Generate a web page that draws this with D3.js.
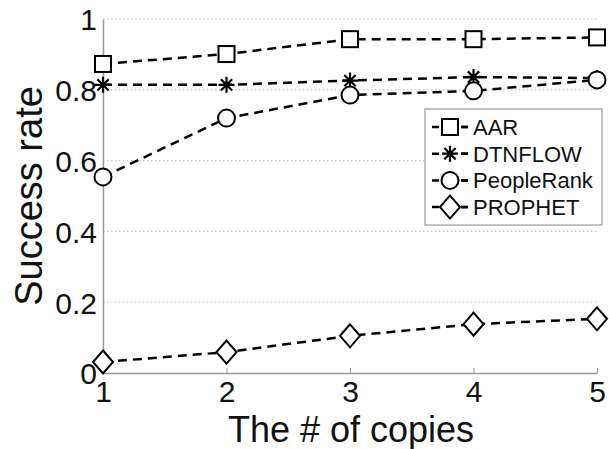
<!DOCTYPE html>
<html>
<head>
<meta charset="utf-8">
<script src="https://cdn.jsdelivr.net/npm/d3@7"></script>
<style>
  body { margin: 0; background: #fff; }
  svg { font-family: "Liberation Sans", Arial, sans-serif; }
</style>
</head>
<body>
<div id="chart"></div>
<script>
const WIDTH = 609;
const HEIGHT = 449;

// data
const copies = [1, 2, 3, 4, 5];
const aar = [0.873, 0.901, 0.943, 0.943, 0.948];
const dtnflow = [0.814, 0.814, 0.826, 0.836, 0.833];
const peopleRank = [0.554, 0.72, 0.785, 0.797, 0.828];
const prophet = [0.031, 0.059, 0.105, 0.138, 0.153];
const seriesNames = ['AAR', 'DTNFLOW', 'PeopleRank', 'PROPHET'];
const markers = ['square', 'star', 'circle', 'diamond'];
const yTicks = [0, 0.2, 0.4, 0.6, 0.8, 1];

const series = [aar, dtnflow, peopleRank, prophet].map((values, i) => ({
  name: seriesNames[i],
  marker: markers[i],
  points: values.map((v, j) => ({ x: copies[j], y: v })),
}));

const plot = { left: 103, right: 597, top: 19, bottom: 373 };

const svg = d3
  .select('#chart')
  .append('svg')
  .attr('width', WIDTH)
  .attr('height', HEIGHT);

const x = d3.scaleLinear().domain([1, 5]).range([plot.left, plot.right]);
const y = d3.scaleLinear().domain([0, 1]).range([plot.bottom, plot.top]);

// dotted horizontal grid
svg
  .append('g')
  .selectAll('line')
  .data(yTicks.filter((d) => d > 0))
  .join('line')
  .attr('x1', plot.left)
  .attr('x2', plot.right)
  .attr('y1', (d) => y(d))
  .attr('y2', (d) => y(d))
  .attr('stroke', '#bbb')
  .attr('stroke-width', 1)
  .attr('stroke-dasharray', '1.5,2.5');

// axes
const yAxis = svg
  .append('g')
  .attr('transform', `translate(${plot.left},0)`)
  .call(d3.axisLeft(y).tickValues(yTicks).tickFormat(d3.format('')).tickSize(0).tickPadding(6));
yAxis.select('.domain').attr('stroke', '#999').attr('stroke-width', 1.5);
yAxis.selectAll('text').attr('font-size', 30).attr('fill', '#111').attr('dy', '0.36em');

const xAxis = svg
  .append('g')
  .attr('transform', `translate(0,${plot.bottom})`)
  .call(d3.axisBottom(x).tickValues(copies).tickFormat(d3.format('d')).tickSizeInner(-5).tickSizeOuter(0).tickPadding(8));
xAxis.select('.domain').attr('stroke', '#999').attr('stroke-width', 1.5);
xAxis.selectAll('.tick line').attr('stroke', '#999');
xAxis.selectAll('text').attr('font-size', 30).attr('fill', '#111');

// axis titles
svg
  .append('text')
  .attr('x', 351)
  .attr('y', 442)
  .attr('text-anchor', 'middle')
  .attr('font-size', 36)
  .attr('fill', '#111')
  .text('The # of copies');

svg
  .append('text')
  .attr('transform', `translate(42,${(plot.top + plot.bottom) / 2}) rotate(-90)`)
  .attr('text-anchor', 'middle')
  .attr('font-size', 38)
  .attr('fill', '#111')
  .text('Success rate');

function drawMarker(g, type) {
  if (type === 'square') {
    g.append('rect').attr('x', -8).attr('y', -8).attr('width', 16).attr('height', 16)
      .attr('fill', '#fff').attr('stroke', '#000').attr('stroke-width', 2);
  } else if (type === 'circle') {
    g.append('circle').attr('r', 8.5)
      .attr('fill', '#fff').attr('stroke', '#000').attr('stroke-width', 2);
  } else if (type === 'diamond') {
    g.append('path').attr('d', 'M0,-11.5L10,0L0,11.5L-10,0Z')
      .attr('fill', '#fff').attr('stroke', '#000').attr('stroke-width', 2);
  } else {
    const r = 8;
    const d = r * Math.SQRT1_2;
    g.append('path')
      .attr('d', `M0,${-r}V${r}M${-r},0H${r}M${-d},${-d}L${d},${d}M${-d},${d}L${d},${-d}`)
      .attr('stroke', '#000').attr('stroke-width', 2.2).attr('fill', 'none');
  }
}

const line = d3.line().x((d) => x(d.x)).y((d) => y(d.y));

series.forEach((s) => {
  const g = svg.append('g');
  g.append('path')
    .datum(s.points)
    .attr('d', line)
    .attr('fill', 'none')
    .attr('stroke', '#000')
    .attr('stroke-width', 2.5)
    .attr('stroke-dasharray', '9,6');
  g.selectAll('.marker')
    .data(s.points)
    .join('g')
    .attr('class', 'marker')
    .attr('transform', (d) => `translate(${x(d.x)},${y(d.y)})`)
    .each(function () {
      drawMarker(d3.select(this), s.marker);
    });
});

// legend
const legend = svg.append('g').attr('transform', 'translate(425,109)');
legend.append('rect')
  .attr('width', 177).attr('height', 116)
  .attr('fill', '#fff').attr('stroke', '#999').attr('stroke-width', 1.2);

const rows = legend.selectAll('.row')
  .data(series)
  .join('g')
  .attr('class', 'row')
  .attr('transform', (d, i) => `translate(0,${18 + i * 26.7})`);
rows.append('line')
  .attr('x1', 7).attr('x2', 43)
  .attr('stroke', '#000').attr('stroke-width', 2.5)
  .attr('stroke-dasharray', '7,22');
rows.append('line')
  .attr('x1', 36).attr('x2', 43)
  .attr('stroke', '#000').attr('stroke-width', 2.5);
rows.append('g')
  .attr('transform', 'translate(25,0)')
  .each(function (d) {
    drawMarker(d3.select(this), d.marker);
  });
rows.append('text')
  .attr('x', 48)
  .attr('dy', '0.36em')
  .attr('font-size', 22)
  .attr('fill', '#111')
  .text((d) => d.name);
</script>
</body>
</html>
